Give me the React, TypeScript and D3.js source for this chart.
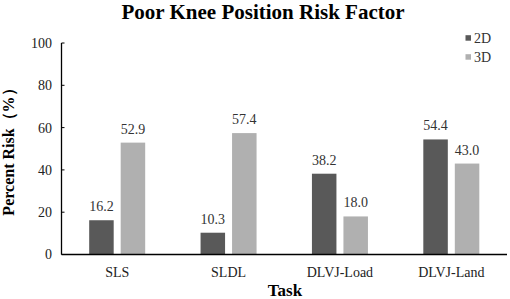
import React from "react";
import * as d3 from "d3";

const categories = ["SLS", "SLDL", "DLVJ-Load", "DLVJ-Land"];
const seriesNames = ["2D", "3D"];
const values2D = [16.2, 10.3, 38.2, 54.4];
const values3D = [52.9, 57.4, 18.0, 43.0];
const yTicks = [0, 20, 40, 60, 80, 100];
const colors = ["#595959", "#b0b0b0"];

const W = 510;
const H = 299;
const left = 61.5;
const right = 507;
const top = 43;
const bottom = 254.5;
const font = "Liberation Serif, Times New Roman, Times, serif";

export default function App() {
  const x = d3.scaleBand<string>().domain(categories).range([left, right]).padding(0);
  const y = d3.scaleLinear().domain([0, 100]).range([bottom, top]);
  const barW = 24.5;
  const gap = 7;
  const series = [values2D, values3D];

  return (
    <svg width={W} height={H} style={{ position: "absolute", left: 0, top: 0, background: "#fff", fontFamily: font }}>
      <text x={263} y={19} textAnchor="middle" fontSize={21} fontWeight="bold" fill="#000">
        Poor Knee Position Risk Factor
      </text>
      {categories.map((c, i) => {
        const cx = (x(c) as number) + x.bandwidth() / 2;
        return series.map((vals, s) => {
          const bx = s === 0 ? cx - gap / 2 - barW : cx + gap / 2;
          const v = vals[i];
          return (
            <g key={c + s}>
              <rect x={bx} y={y(v)} width={barW} height={bottom - y(v)} fill={colors[s]} />
              <text x={bx + barW / 2} y={y(v) - 9} textAnchor="middle" fontSize={14} fill="#333">
                {v.toFixed(1)}
              </text>
            </g>
          );
        });
      })}
      <line x1={left} x2={left} y1={top} y2={bottom} stroke="#000" strokeWidth={1.3} />
      {yTicks.map((t) => (
        <g key={t}>
          <line x1={left} x2={left + 3} y1={y(t)} y2={y(t)} stroke="#000" strokeWidth={1} />
          <text x={52} y={y(t)} dy="0.35em" textAnchor="end" fontSize={14} fill="#222">
            {t}
          </text>
        </g>
      ))}
      <line x1={left} x2={right} y1={bottom} y2={bottom} stroke="#000" strokeWidth={1.3} />
      {categories.map((c) => (
        <text key={c} x={(x(c) as number) + x.bandwidth() / 2} y={272} dy="0.35em" textAnchor="middle" fontSize={14} fill="#222">
          {c}
        </text>
      ))}
      <text x={285} y={290} dy="0.35em" textAnchor="middle" fontSize={17} fontWeight="bold" fill="#000">
        Task
      </text>
      <text transform={`translate(8,148) rotate(-90)`} dy="0.35em" textAnchor="middle" fontSize={16} fontWeight="bold" fill="#000">
        Percent Risk（%）
      </text>
      {seriesNames.map((n, s) => (
        <g key={n} transform={`translate(465.5,${38 + s * 19})`}>
          <rect x={0} y={-2.8} width={5.5} height={5.5} fill={colors[s]} />
          <text x={8.5} y={0} dy="0.35em" fontSize={14} fill="#333">
            {n}
          </text>
        </g>
      ))}
    </svg>
  );
}
